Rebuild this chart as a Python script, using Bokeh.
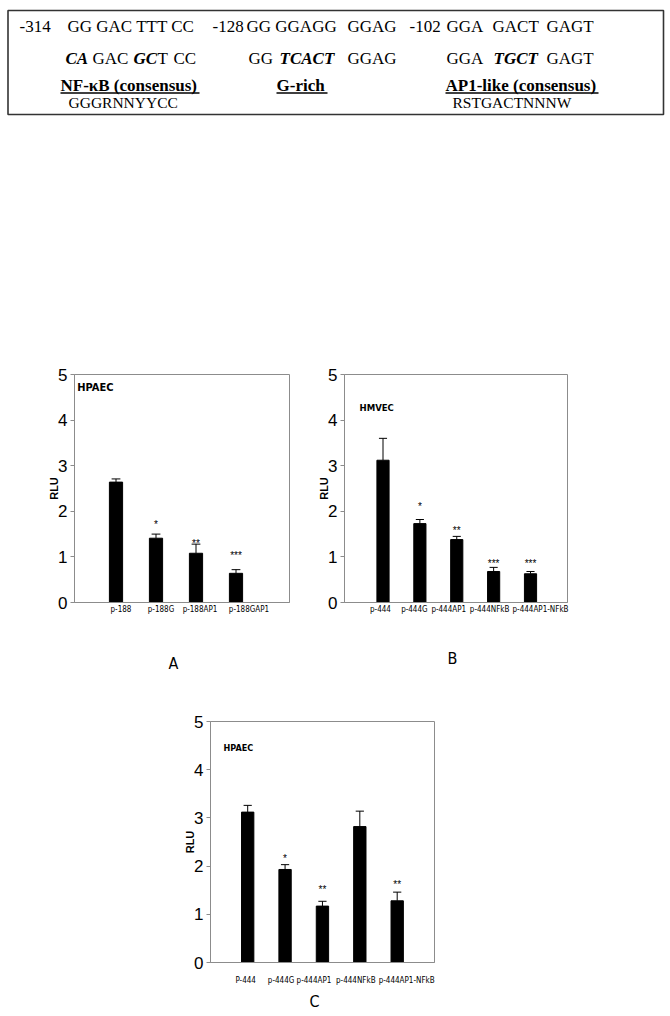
from bokeh.plotting import figure
from bokeh.models import Range1d, FixedTicker, Label, Spacer, Title
from bokeh.layouts import column, row
from bokeh.embed import file_html
from bokeh.resources import INLINE
from bokeh.core.properties import value

# ---------------- data ----------------
a_labels = ["p-188", "p-188G", "p-188AP1", "p-188GAP1"]
a_values = [2.64, 1.41, 1.08, 0.64]
a_errors = [0.07, 0.09, 0.20, 0.08]
a_stars = ["", "*", "**", "***"]
a_star_y = [0.0, 1.70, 1.30, 1.02]

b_labels = ["p-444", "p-444G", "p-444AP1", "p-444NFkB", "p-444AP1-NFkB"]
b_values = [3.12, 1.73, 1.38, 0.68, 0.63]
b_errors = [0.48, 0.09, 0.07, 0.09, 0.05]
b_stars = ["", "*", "**", "***", "***"]
b_star_y = [0.0, 2.10, 1.58, 0.86, 0.86]

c_labels = ["P-444", "p-444G", "p-444AP1", "p-444NFkB", "p-444AP1-NFkB"]
c_values = [3.12, 1.93, 1.17, 2.82, 1.28]
c_errors = [0.14, 0.10, 0.10, 0.32, 0.18]
c_stars = ["", "*", "**", "", "**"]
c_star_y = [0.0, 2.16, 1.52, 0.0, 1.61]

y_ticks = [0, 1, 2, 3, 4, 5]

# sequence box texts
row1_text = ["-314", "GG GAC TTT CC", "-128", "GG GGAGG", "GGAG", "-102", "GGA", "GACT", "GAGT"]
row2_plain = ["GAC", "T", "CC", "GG", "GGAG", "GGA", "GAGT"]
row2_bold = ["CA", "GC", "TCACT", "TGCT"]
row3_text = ["NF-\u03baB (consensus)", "G-rich", "AP1-like (consensus)"]
row4_text = ["GGGRNNYYCC", "RSTGACTNNNW"]

SERIF = value("Liberation Serif")
SANS = value("Liberation Sans")
NARROW_S = "DejaVu Sans Condensed, Liberation Sans"
SANS_S = "Liberation Sans"
GRAY = "#8c8c8c"

# ---------------- sequence box ----------------
box = figure(frame_width=670, frame_height=125, x_range=Range1d(0, 670),
             y_range=Range1d(125, 0), output_backend="svg", toolbar_location=None,
             min_border=0, outline_line_color=None)
box.axis.visible = False
box.grid.visible = False
box.quad(left=[7.5], right=[663], top=[10], bottom=[114], fill_color=None,
         line_color="#333333", line_width=1.6)
ys = dict(r1=26, r2=58, r3=85, r4=101.5)
box.text(x=[19, 67, 212, 246, 347, 409, 446, 492, 546], y=[ys["r1"]] * len(row1_text),
         text=row1_text, text_font=SERIF, text_font_size="17px",
         text_baseline="middle", text_align="left", text_color="black")
box.text(x=[92, 157, 173, 248, 347, 446, 546], y=[ys["r2"]] * len(row2_plain),
         text=row2_plain, text_font=SERIF, text_font_size="17px",
         text_baseline="middle", text_align="left", text_color="black")
box.text(x=[65, 133, 279, 493], y=[ys["r2"]] * len(row2_bold),
         text=row2_bold, text_font=SERIF, text_font_size="17px", text_font_style="bold italic",
         text_baseline="middle", text_align="left", text_color="black")
box.text(x=[60, 276, 445], y=[ys["r3"]] * 3, text=row3_text, text_font=SERIF,
         text_font_size="17px", text_font_style="bold",
         text_baseline="middle", text_align="left", text_color="black")
box.segment(x0=[60, 276, 445], x1=[199, 327, 598], y0=[92.5] * 3, y1=[92.5] * 3,
            line_color="black", line_width=1.3)
box.text(x=[68, 452], y=[ys["r4"]] * 2, text=row4_text, text_font=SERIF,
         text_font_size="15.5px", text_baseline="middle", text_align="left", text_color="black")


# ---------------- bar charts ----------------
def make_chart(labels, values, errors, stars, star_y, cell, cell_xy, cell_size,
               x_range, frame_w, frame_h, borders, label_shift, xlab_standoff,
               panel, panel_offset, panel_standoff):
    n = len(values)
    xs = list(range(1, n + 1))
    ppu = frame_w / (x_range[1] - x_range[0])
    p = figure(frame_width=frame_w, frame_height=frame_h,
               x_range=Range1d(*x_range), y_range=Range1d(0, 5),
               output_backend="svg", toolbar_location=None,
               min_border_left=borders[0], min_border_right=borders[1],
               min_border_top=borders[2], min_border_bottom=borders[3],
               outline_line_color=GRAY, outline_line_width=1)
    p.grid.visible = False
    tops = [v + e for v, e in zip(values, errors)]
    p.segment(x0=xs, x1=xs, y0=values, y1=tops, line_color="black", line_width=1)
    p.segment(x0=[x - 0.11 for x in xs], x1=[x + 0.11 for x in xs], y0=tops, y1=tops,
              line_color="black", line_width=1)
    p.vbar(x=xs, top=values, bottom=0, width=0.33, fill_color="black", line_color="black")
    p.text(x=xs, y=star_y, text=stars, text_font=SANS, text_font_size="10px",
           text_align="center", text_baseline="alphabetic", text_color="black")
    p.add_layout(Label(x=cell_xy[0], y=cell_xy[1], text=cell, text_font=NARROW_S,
                       text_font_size=cell_size, text_font_style="bold",
                       text_baseline="middle", text_align="left", text_color="black"))
    # x axis: category labels under the bars
    ticks = [round(x + s / ppu, 4) for x, s in zip(xs, label_shift)]
    p.xaxis.ticker = FixedTicker(ticks=ticks)
    p.xaxis.major_label_overrides = {t: lab for t, lab in zip(ticks, labels)}
    p.xaxis.major_tick_line_color = None
    p.xaxis.major_tick_out = 0
    p.xaxis.major_tick_in = 0
    p.xaxis.minor_tick_line_color = None
    p.xaxis.axis_line_color = GRAY
    p.xaxis.major_label_text_font = NARROW_S
    p.xaxis.major_label_text_font_size = "8px"
    p.xaxis.major_label_standoff = xlab_standoff
    p.xaxis.major_label_text_color = "black"
    # y axis
    p.yaxis.ticker = FixedTicker(ticks=y_ticks)
    p.yaxis.minor_tick_line_color = None
    p.yaxis.major_tick_out = 4
    p.yaxis.major_tick_in = 0
    p.yaxis.major_tick_line_color = GRAY
    p.yaxis.axis_line_color = GRAY
    p.yaxis.major_label_text_font = SANS_S
    p.yaxis.major_label_text_font_size = "17px"
    p.yaxis.major_label_standoff = 3
    p.yaxis.major_label_text_color = "black"
    p.yaxis.axis_label = "RLU"
    p.yaxis.axis_label_text_font = SANS_S
    p.yaxis.axis_label_text_font_size = "11px"
    p.yaxis.axis_label_text_font_style = "bold"
    p.yaxis.axis_label_text_color = "black"
    p.yaxis.axis_label_standoff = -5
    p.add_layout(Title(text=panel, align="left", offset=panel_offset, standoff=panel_standoff,
                       text_font=NARROW_S, text_font_size="16px", text_font_style="normal",
                       text_color="black"), "below")
    return p


fig_a = make_chart(a_labels, a_values, a_errors, a_stars, a_star_y, "HPAEC", (0.03, 4.72), "11px",
                   (-0.0375, 5.3375), 215, 228, (74, 11, 34, 106),
                   [5, 5, 4, 13], 2, "A", 94, 70)
fig_b = make_chart(b_labels, b_values, b_errors, b_stars, b_star_y, "HMVEC", (0.363, 4.27), "9.5px",
                   (-0.044, 6.003), 223, 228, (44, 103, 34, 106),
                   [-2.5, -5.5, -8, -4, 10], 2, "B", 103, 60)
fig_c = make_chart(c_labels, c_values, c_errors, c_stars, c_star_y, "HPAEC", (0.353, 4.45), "9px",
                   (0.005, 5.998), 224, 241, (60, 60, 13, 54),
                   [-2, -4, -8.5, -4, 9.5], 13, "C", 99, 5)

layout = column(box, Spacer(height=215), row(fig_a, fig_b), row(Spacer(width=150), fig_c))

open("out.html", "w").write(file_html(layout, INLINE))
